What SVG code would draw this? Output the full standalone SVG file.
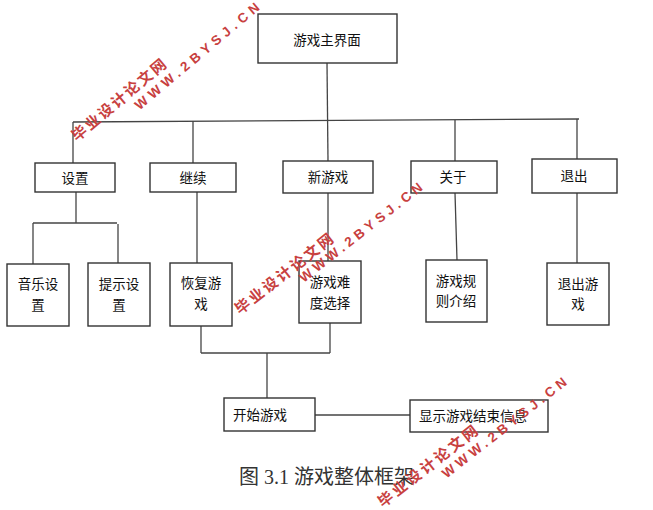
<svg xmlns="http://www.w3.org/2000/svg" width="653" height="510" viewBox="0 0 653 510">
<style>
.box{fill:#fff;stroke:#333;stroke-width:1.4}
.ln{stroke:#444;stroke-width:1.3;fill:none}
.t{font-family:"Noto Sans CJK SC","Microsoft YaHei",sans-serif;font-size:13.5px;fill:#111;text-anchor:middle}
.tl{font-family:"Noto Sans CJK SC",sans-serif;font-size:13.5px;fill:#111}
.cap{font-family:"Liberation Serif","Noto Sans CJK SC",serif;font-size:20px;fill:#333}
.wm1{font-family:"Noto Sans CJK SC",sans-serif;font-weight:bold;font-size:15px;fill:#c8413f}
.wm2{font-family:"Liberation Sans",sans-serif;font-weight:bold;font-size:13.5px;fill:#c8413f}
</style>
<rect width="653" height="510" fill="#fff"/>
<g id="connectors">
<line class="ln" x1="327" y1="63" x2="328" y2="161"/>
<line class="ln" x1="73" y1="122" x2="579" y2="119"/>
<line class="ln" x1="73" y1="122" x2="73" y2="163"/>
<line class="ln" x1="193" y1="121" x2="193" y2="163"/>
<line class="ln" x1="455" y1="120" x2="455" y2="161"/>
<line class="ln" x1="577" y1="119" x2="577" y2="159"/>
<line class="ln" x1="76" y1="192" x2="76" y2="223"/>
<line class="ln" x1="33" y1="223" x2="117" y2="223"/>
<line class="ln" x1="33" y1="223" x2="33" y2="264"/>
<line class="ln" x1="118" y1="224" x2="118" y2="263"/>
<line class="ln" x1="197" y1="192" x2="197" y2="263"/>
<line class="ln" x1="328" y1="193" x2="328" y2="261"/>
<line class="ln" x1="455" y1="193" x2="457" y2="260"/>
<line class="ln" x1="577" y1="193" x2="577" y2="263"/>
<line class="ln" x1="201" y1="326" x2="201" y2="353"/>
<line class="ln" x1="330" y1="323" x2="330" y2="353"/>
<line class="ln" x1="201" y1="353" x2="330" y2="353"/>
<line class="ln" x1="267" y1="353" x2="267" y2="398"/>
<line class="ln" x1="315" y1="415" x2="410" y2="415"/>
</g>
<g id="main"><rect class="box" x="258" y="14" width="139" height="49"/><text class="t" x="327" y="45">游戏主界面</text></g>
<g id="settings"><rect class="box" x="35" y="163" width="80" height="29"/><text class="t" x="75" y="183">设置</text></g>
<g id="continue"><rect class="box" x="150" y="163" width="86" height="29"/><text class="t" x="193" y="183">继续</text></g>
<g id="newgame"><rect class="box" x="283" y="161" width="90" height="32"/><text class="t" x="328" y="182">新游戏</text></g>
<g id="about"><rect class="box" x="411" y="161" width="86" height="32"/><text class="t" x="453" y="182">关于</text></g>
<g id="exit"><rect class="box" x="532" y="159" width="85" height="34"/><text class="t" x="574" y="181">退出</text></g>
<g id="music"><rect class="box" x="7" y="264" width="62" height="62"/><text class="t" x="38" y="289">音乐设</text><text class="t" x="38" y="310">置</text></g>
<g id="hint"><rect class="box" x="88" y="263" width="62" height="63"/><text class="t" x="119" y="289">提示设</text><text class="t" x="119" y="310">置</text></g>
<g id="resume"><rect class="box" x="170" y="263" width="62" height="63"/><text class="t" x="201" y="288">恢复游</text><text class="t" x="201" y="309">戏</text></g>
<g id="difficulty"><rect class="box" x="299" y="261" width="62" height="62"/><text class="t" x="330" y="287">游戏难</text><text class="t" x="330" y="308">度选择</text></g>
<g id="rules"><rect class="box" x="426" y="260" width="61" height="62"/><text class="t" x="456" y="286">游戏规</text><text class="t" x="456" y="306">则介绍</text></g>
<g id="quitgame"><rect class="box" x="547" y="263" width="62" height="62"/><text class="t" x="578" y="289">退出游</text><text class="t" x="578" y="309">戏</text></g>
<g id="start"><rect class="box" x="224" y="398" width="91" height="33"/><text class="tl" x="233" y="420">开始游戏</text></g>
<g id="endinfo"><rect class="box" x="410" y="400" width="138" height="32"/><text class="tl" x="419" y="421">显示游戏结束信息</text></g>
<text class="cap" x="239" y="484">图 3.1 游戏整体框架</text>
<g id="watermarks">
<g transform="translate(77,142) rotate(-40)"><text class="wm1" x="0" y="0" textLength="118" lengthAdjust="spacing">毕业设计论文网</text><text class="wm2" x="68" y="16" textLength="158" lengthAdjust="spacing">WWW.2BYSJ.CN</text></g>
<g transform="translate(240,315) rotate(-38)"><text class="wm1" x="0" y="0" textLength="120" lengthAdjust="spacing">毕业设计论文网</text><text class="wm2" x="70" y="14" textLength="152" lengthAdjust="spacing">WWW.2BYSJ.CN</text></g>
<g transform="translate(383,508) rotate(-38)"><text class="wm1" x="0" y="0" textLength="122" lengthAdjust="spacing">毕业设计论文网</text><text class="wm2" x="68" y="16" textLength="154" lengthAdjust="spacing">WWW.2BYSJ.CN</text></g>
</g>
</svg>
